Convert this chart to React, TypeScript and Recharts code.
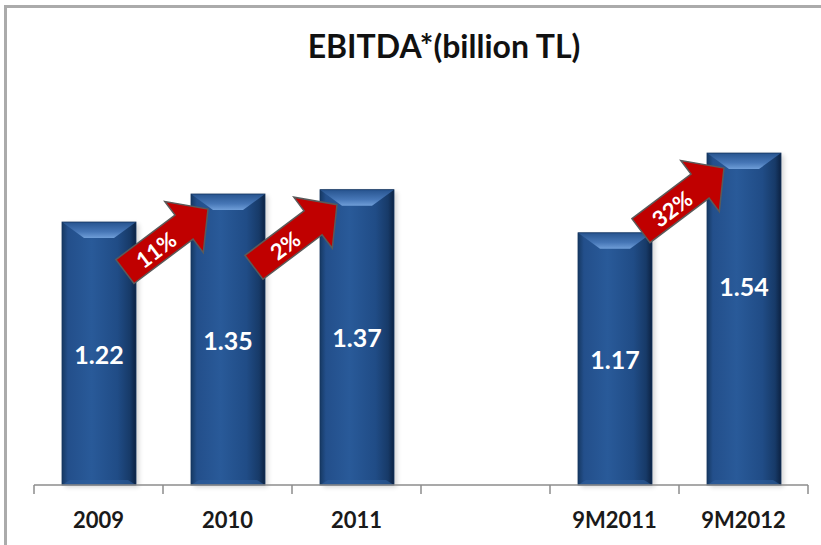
import React from "react";
import { BarChart, Bar, XAxis, YAxis, LabelList } from "recharts";

const categories = ["2009", "2010", "2011", "", "9M2011", "9M2012"];
const ebitdaValues: (number | null)[] = [1.22, 1.35, 1.37, null, 1.17, 1.54];
const growthLabels = ["", "11%", "2%", "", "", "32%"];
const chartTitle = "EBITDA*(billion TL)";

const data = categories.map((c, i) => ({
  category: c,
  value: ebitdaValues[i],
  growth: growthLabels[i],
}));

const FONT = "Lato, 'Open Sans', sans-serif";
const WIDTH = 821;
const HEIGHT = 545;
const MARGIN = { top: 97, right: 13, left: 34, bottom: 20 };
const BAND = (WIDTH - MARGIN.left - MARGIN.right) / categories.length;

function BevelBar(props: any) {
  const { x, y, width: w, height: h } = props;
  if (!h || h <= 0) return null;
  const bx = 22;
  const by = 16;
  return (
    <g>
      <rect x={x + 3} y={y + 2} width={w} height={h} fill="#000" opacity={0.16} filter="url(#barShadow)" />
      <rect x={x} y={y} width={w} height={h} fill="url(#barFace)" />
      <polygon
        points={`${x},${y} ${x + w},${y} ${x + w - bx},${y + by} ${x + bx},${y + by}`}
        fill="url(#barTop)"
      />
      <polygon
        points={`${x},${y + h} ${x + w},${y + h} ${x + w - 8},${y + h - 5} ${x + 8},${y + h - 5}`}
        fill="#2f5f9c"
        opacity={0.6}
      />
      <rect x={x} y={y} width={w} height={h} fill="none" stroke="#16355f" strokeWidth={0.8} />
    </g>
  );
}

function BarLabel(props: any) {
  const { x, y, width, height, value } = props;
  if (value === null || value === undefined) return null;
  const idx = ebitdaValues.indexOf(Number(value));
  const cx = x + width / 2;
  const cy = y + height / 2 + (idx === categories.length - 1 ? -33 : 0);
  const growth = idx >= 0 ? growthLabels[idx] : "";
  let arrow = null;
  if (growth) {
    const tipX = x + 17;
    const tipY = y + 15;
    const ang = 37;
    const L = 104;
    const rad = (ang * Math.PI) / 180;
    const tx = tipX - L * Math.cos(rad);
    const ty = tipY + L * Math.sin(rad);
    const hb = L - 30;
    arrow = (
      <g transform={`translate(${tx},${ty}) rotate(${-ang})`}>
        <polygon
          points={`0,-15 ${hb},-15 ${hb},-32 ${L},0 ${hb},32 ${hb},15 0,15`}
          fill="#c00000"
          stroke="#5a5a5a"
          strokeWidth={1.5}
          strokeLinejoin="miter"
        />
        <text
          x={38}
          y={1}
          textAnchor="middle"
          dominantBaseline="central"
          fill="#ffffff"
          fontFamily={FONT}
          fontWeight={700}
          fontSize={22}
        >
          {growth}
        </text>
      </g>
    );
  }
  return (
    <g>
      <text
        x={cx}
        y={cy}
        textAnchor="middle"
        dominantBaseline="central"
        fill="#ffffff"
        fontFamily={FONT}
        fontWeight={700}
        fontSize={25}
      >
        {Number(value).toFixed(2)}
      </text>
      {arrow}
    </g>
  );
}

function AxisTick(props: any) {
  const { x, y, payload, index } = props;
  const axisY = y - 8;
  const left = x - BAND / 2;
  const right = x + BAND / 2;
  return (
    <g>
      <line x1={left} y1={axisY} x2={left} y2={axisY + 9} stroke="#8c8c8c" strokeWidth={1.5} />
      {index === categories.length - 1 && (
        <line x1={right} y1={axisY} x2={right} y2={axisY + 9} stroke="#8c8c8c" strokeWidth={1.5} />
      )}
      <text
        x={x}
        y={axisY + 43}
        textAnchor="middle"
        fill="#1a1a1a"
        fontFamily={FONT}
        fontWeight={700}
        fontSize={22}
      >
        {payload.value}
      </text>
    </g>
  );
}

export default function App() {
  return (
    <div
      style={{
        position: "absolute",
        left: 0,
        top: 0,
        width: WIDTH,
        height: HEIGHT,
        background: "#ffffff",
        overflow: "hidden",
      }}
    >
      <div
        style={{
          position: "absolute",
          left: 4,
          top: 5,
          right: -5,
          bottom: -5,
          borderTop: "3px solid #ababab",
          borderLeft: "3px solid #ababab",
        }}
      />
      <div
        style={{
          position: "absolute",
          left: 444 - 200,
          top: 29,
          width: 400,
          textAlign: "center",
          fontFamily: FONT,
          fontWeight: 700,
          fontSize: 32,
          lineHeight: "34px",
          color: "#111",
        }}
      >
        {chartTitle}
      </div>
      <div style={{ position: "absolute", left: 0, top: 0 }}>
        <BarChart width={WIDTH} height={HEIGHT} data={data} margin={MARGIN}>
          <defs>
            <linearGradient id="barFace" x1="0" y1="0" x2="1" y2="0">
              <stop offset="0%" stopColor="#163963" />
              <stop offset="8%" stopColor="#234f8b" />
              <stop offset="40%" stopColor="#295a99" />
              <stop offset="75%" stopColor="#204c86" />
              <stop offset="92%" stopColor="#173a68" />
              <stop offset="100%" stopColor="#0c2242" />
            </linearGradient>
            <linearGradient id="barTop" x1="0" y1="0" x2="0" y2="1">
              <stop offset="0%" stopColor="#27548f" />
              <stop offset="60%" stopColor="#4676b6" />
              <stop offset="100%" stopColor="#6f9ed8" />
            </linearGradient>
            <filter id="barShadow" x="-20%" y="-20%" width="140%" height="140%">
              <feGaussianBlur stdDeviation="2.5" />
            </filter>
          </defs>
          <YAxis hide domain={[0, 1.8]} />
          <XAxis
            dataKey="category"
            height={40}
            tickLine={false}
            axisLine={{ stroke: "#8c8c8c", strokeWidth: 1.5 }}
            tick={<AxisTick />}
            interval={0}
          />
          <Bar dataKey="value" barSize={74} shape={<BevelBar />} isAnimationActive={false}>
            <LabelList dataKey="value" content={<BarLabel />} />
          </Bar>
        </BarChart>
      </div>
    </div>
  );
}
